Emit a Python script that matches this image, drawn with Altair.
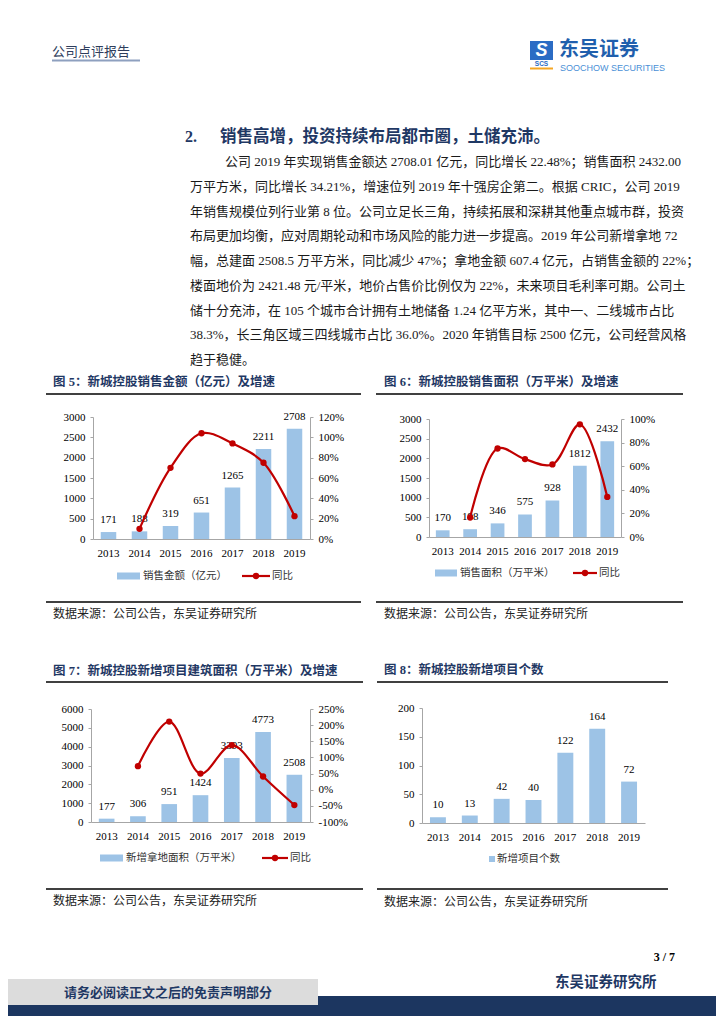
import altair as alt
import pandas as pd

# ---------------- data ----------------
years = ['2013', '2014', '2015', '2016', '2017', '2018', '2019']
sales_amount = [171, 188, 319, 651, 1265, 2211, 2708]
sales_amount_yoy = [None, 0.10, 0.70, 1.04, 0.94, 0.75, 0.225]
sales_area = [170, 198, 346, 575, 928, 1812, 2432]
sales_area_yoy = [None, 0.165, 0.75, 0.66, 0.615, 0.955, 0.34]
land_area = [177, 306, 951, 1424, 3393, 4773, 2508]
land_area_yoy = [None, 0.73, 2.11, 0.50, 1.38, 0.41, -0.475]
new_projects = [10, 13, 42, 40, 122, 164, 72]

header_text = "公司点评报告"
section_no = "2."
section_title = "销售高增，投资持续布局都市圈，土储充沛。"
body_lines = [
    "公司 2019 年实现销售金额达 2708.01 亿元，同比增长 22.48%；销售面积 2432.00",
    "万平方米，同比增长 34.21%，增速位列 2019 年十强房企第二。根据 CRIC，公司 2019",
    "年销售规模位列行业第 8 位。公司立足长三角，持续拓展和深耕其他重点城市群，投资",
    "布局更加均衡，应对周期轮动和市场风险的能力进一步提高。2019 年公司新增拿地 72",
    "幅，总建面 2508.5 万平方米，同比减少 47%；拿地金额 607.4 亿元，占销售金额的 22%；",
    "楼面地价为 2421.48 元/平米，地价占售价比例仅为 22%，未来项目毛利率可期。公司土",
    "储十分充沛，在 105 个城市合计拥有土地储备 1.24 亿平方米，其中一、二线城市占比",
    "38.3%，长三角区域三四线城市占比 36.0%。2020 年销售目标 2500 亿元，公司经营风格",
    "趋于稳健。",
]
fig_titles = [
    "图 5：新城控股销售金额（亿元）及增速",
    "图 6：新城控股销售面积（万平米）及增速",
    "图 7：新城控股新增项目建筑面积（万平米）及增速",
    "图 8：新城控股新增项目个数",
]
legend_bar_names = ["销售金额（亿元）", "销售面积（万平米）", "新增拿地面积（万平米）", "新增项目个数"]
legend_line_name = "同比"
source_text = "数据来源：公司公告，东吴证券研究所"

# ---------------- page geometry ----------------
W, H = 708, 1008
M = 8


def X(v):
    return v - M


def Y(v):
    return v - M


SERIF = "Liberation Serif, Times New Roman, Noto Sans CJK SC"
CJK = "Noto Sans CJK SC"
SANS = "Liberation Sans, Arial, Noto Sans CJK SC"
NAVY = "#1F3864"
BAR = "#9DC3E6"
RED = "#C00000"
AXIS = "#A6A6A6"

dummy = pd.DataFrame({'d': [0]})
layers = []


def txt(x, y, s, size=13, color='#000', font=SERIF, weight='normal', align='left',
        baseline='middle', italic=False):
    m = alt.Chart(dummy).mark_text(align=align, baseline=baseline, font=font, fontSize=size,
                                   fontWeight=weight, color=color,
                                   fontStyle='italic' if italic else 'normal')
    return m.encode(x=alt.value(X(x)), y=alt.value(Y(y)), text=alt.value(s))


def hrule(x1, x2, y, color='#000', w=1.0):
    return alt.Chart(dummy).mark_rule(color=color, strokeWidth=w).encode(
        x=alt.value(X(x1)), x2=alt.value(X(x2)), y=alt.value(Y(y)))


def rect(x1, x2, y1, y2, color):
    return alt.Chart(dummy).mark_rect(color=color).encode(
        x=alt.value(X(x1)), x2=alt.value(X(x2)), y=alt.value(Y(y1)), y2=alt.value(Y(y2)))


def pt(x, y, color=RED, size=40):
    return alt.Chart(dummy).mark_point(filled=True, color=color, size=size, opacity=1).encode(
        x=alt.value(X(x)), y=alt.value(Y(y)))


def ax_label_style():
    return dict(labelFont=SERIF, labelFontSize=11, labelColor='#000', title=None,
                domainColor=AXIS, tickColor=AXIS, grid=False)


def combo(vals, yoy, box, ymax, ystep, rng=None):
    x0, x1, ytop, ybot = box
    xs = alt.Scale(domain=years, range=[X(x0), X(x1)], paddingInner=0.5, paddingOuter=0.25)
    ys = alt.Scale(domain=[0, ymax], range=[Y(ybot), Y(ytop)], nice=False, zero=True)
    df = pd.DataFrame({'year': years, 'v': vals})
    base = alt.Chart(df)
    out = []
    out.append(base.mark_bar(color=BAR).encode(
        x=alt.X('year:N', scale=xs, sort=years,
                axis=alt.Axis(orient='bottom', offset=Y(ybot) - H, ticks=False,
                              labelPadding=8, labelAngle=0, **ax_label_style())),
        y=alt.Y('v:Q', scale=ys,
                axis=alt.Axis(orient='left', offset=-X(x0), values=list(range(0, ymax + 1, ystep)),
                              tickSize=3, labelPadding=5, format='d', **ax_label_style()))))
    out.append(base.mark_text(font=SERIF, fontSize=11, color='#000', baseline='middle', dy=-12).encode(
        x=alt.X('year:N', scale=xs, sort=years, axis=None),
        y=alt.Y('v:Q', scale=ys, axis=None),
        text=alt.Text('v:Q', format='d')))
    if yoy is not None:
        rmin, rmax, rstep = rng
        dl = pd.DataFrame({'year': years[1:], 'r': yoy[1:]})
        rs = alt.Scale(domain=[rmin, rmax], range=[Y(ybot), Y(ytop)], nice=False, zero=False)
        rvals = [round(rmin + i * rstep, 4) for i in range(int(round((rmax - rmin) / rstep)) + 1)]
        lbase = alt.Chart(dl)
        out.append(lbase.mark_line(color=RED, strokeWidth=2.2, interpolate='catmull-rom').encode(
            x=alt.X('year:N', scale=xs, sort=years, axis=None),
            y=alt.Y('r:Q', scale=rs,
                    axis=alt.Axis(orient='right', offset=X(x1) - W, values=rvals, tickSize=3,
                                  labelPadding=5,
                                  labelExpr="(datum.value < 0 ? '-' : '') + format(abs(datum.value) * 100, '.0f') + '%'",
                                  **ax_label_style()))))
        out.append(lbase.mark_point(filled=True, color=RED, size=40, opacity=1).encode(
            x=alt.X('year:N', scale=xs, sort=years, axis=None),
            y=alt.Y('r:Q', scale=rs, axis=None)))
    return out


# ---------------- header ----------------
layers.append(txt(52, 52, header_text, size=13, color='#2E3D5C', font=CJK))
layers.append(hrule(52, 140, 60.5, color='#8EA0BF', w=2))
layers.append(rect(530, 553, 41, 60, '#2B6CC4'))
layers.append(txt(541.5, 51, "S", size=18, color='#FFFFFF', font=SANS, weight='bold', align='center', italic=True))
layers.append(txt(541.5, 64, "SCS", size=6.5, color='#2B6CC4', font=SANS, weight='bold', align='center'))
layers.append(hrule(530, 553, 68.5, color='#F5A623', w=2))
layers.append(txt(559, 49.5, "东吴证券", size=20, color='#1F5FAD', font=CJK, weight='bold'))
layers.append(txt(560, 67.5, "SOOCHOW SECURITIES", size=9, color='#4A8FD6', font=SANS))

# ---------------- section title & body ----------------
layers.append(txt(185, 137, section_no, size=16, color=NAVY, font=SERIF, weight='bold'))
layers.append(txt(220, 137, section_title, size=16.5, color=NAVY, font=CJK, weight='bold'))
for i, line in enumerate(body_lines):
    layers.append(txt(225 if i == 0 else 190, 162 + 24.75 * i, line, size=13, color='#1a1a1a', font=SERIF))

# ---------------- figure frames ----------------
frames = [
    # title x, title y, rule x1, x2, title rule y, source rule y, source text y
    (53, 382, 46, 361, 394, 602, 614),
    (384, 382, 376, 683, 394, 602, 614),
    (53, 671, 46, 363, 682, 889, 901),
    (384, 670, 377, 668, 682, 889, 902),
]
for (tx, ty, r1, r2, ry, sy, sty), title in zip(frames, fig_titles):
    layers.append(txt(tx, ty, title, size=12.5, color=NAVY, font=SERIF, weight='bold'))
    layers.append(hrule(r1, r2, ry, color='#000', w=1.3))
    layers.append(hrule(r1, r2, sy, color='#000', w=1.3))
    layers.append(txt(tx, sty, source_text, size=12, color='#222', font=CJK))

# ---------------- charts ----------------
layers += combo(sales_amount, sales_amount_yoy, (93, 310, 417, 539), 3000, 500, (0, 1.2, 0.2))
layers += combo(sales_area, sales_area_yoy, (429, 621, 419, 537), 3000, 500, (0, 1.0, 0.2))
layers += combo(land_area, land_area_yoy, (91, 310, 709, 822), 6000, 1000, (-1.0, 2.5, 0.5))
layers += combo(new_projects, None, (422, 645, 708, 823), 200, 50)

# ---------------- legends ----------------
legend_specs = [
    # bar swatch x1, x2, y, text x, line x1, x2, text x
    (117, 140, 576, 143, 242, 270, 272),
    (435, 457, 573, 460, 573, 597, 599),
    (100, 123, 858, 126, 262, 288, 290),
]
for (b1, b2, ly, btx, l1, l2, ltx), name in zip(legend_specs, legend_bar_names[:3]):
    layers.append(rect(b1, b2, ly - 3.5, ly + 3.5, BAR))
    layers.append(txt(btx, ly, name, size=10.5, color='#333', font=CJK))
    layers.append(hrule(l1, l2, ly, color=RED, w=2.2))
    layers.append(pt((l1 + l2) / 2, ly))
    layers.append(txt(ltx, ly, legend_line_name, size=10.5, color='#333', font=CJK))
layers.append(rect(489, 495, 856, 862, BAR))
layers.append(txt(497, 859, legend_bar_names[3], size=10.5, color='#333', font=CJK))

# ---------------- footer ----------------
layers.append(txt(675, 957, "3 / 7", size=12, color='#000', font=SERIF, weight='bold', align='right'))
layers.append(txt(555, 983, "东吴证券研究所", size=14.5, color=NAVY, font=CJK, weight='bold'))
layers.append(rect(8, 716, 996, 1016, '#1C3660'))
layers.append(rect(8, 318, 979, 1005, '#DCDCDC'))
layers.append(txt(168, 993, "请务必阅读正文之后的免责声明部分", size=13, color=NAVY, font=CJK,
                  weight='bold', align='center'))

chart = alt.layer(*layers).resolve_scale(x='independent', y='independent').properties(
    width=W, height=H, autosize=alt.AutoSizeParams(type='none'), padding=0
).configure_view(stroke=None)

chart.save("out.html", embed_options={"renderer": "svg", "actions": False})
